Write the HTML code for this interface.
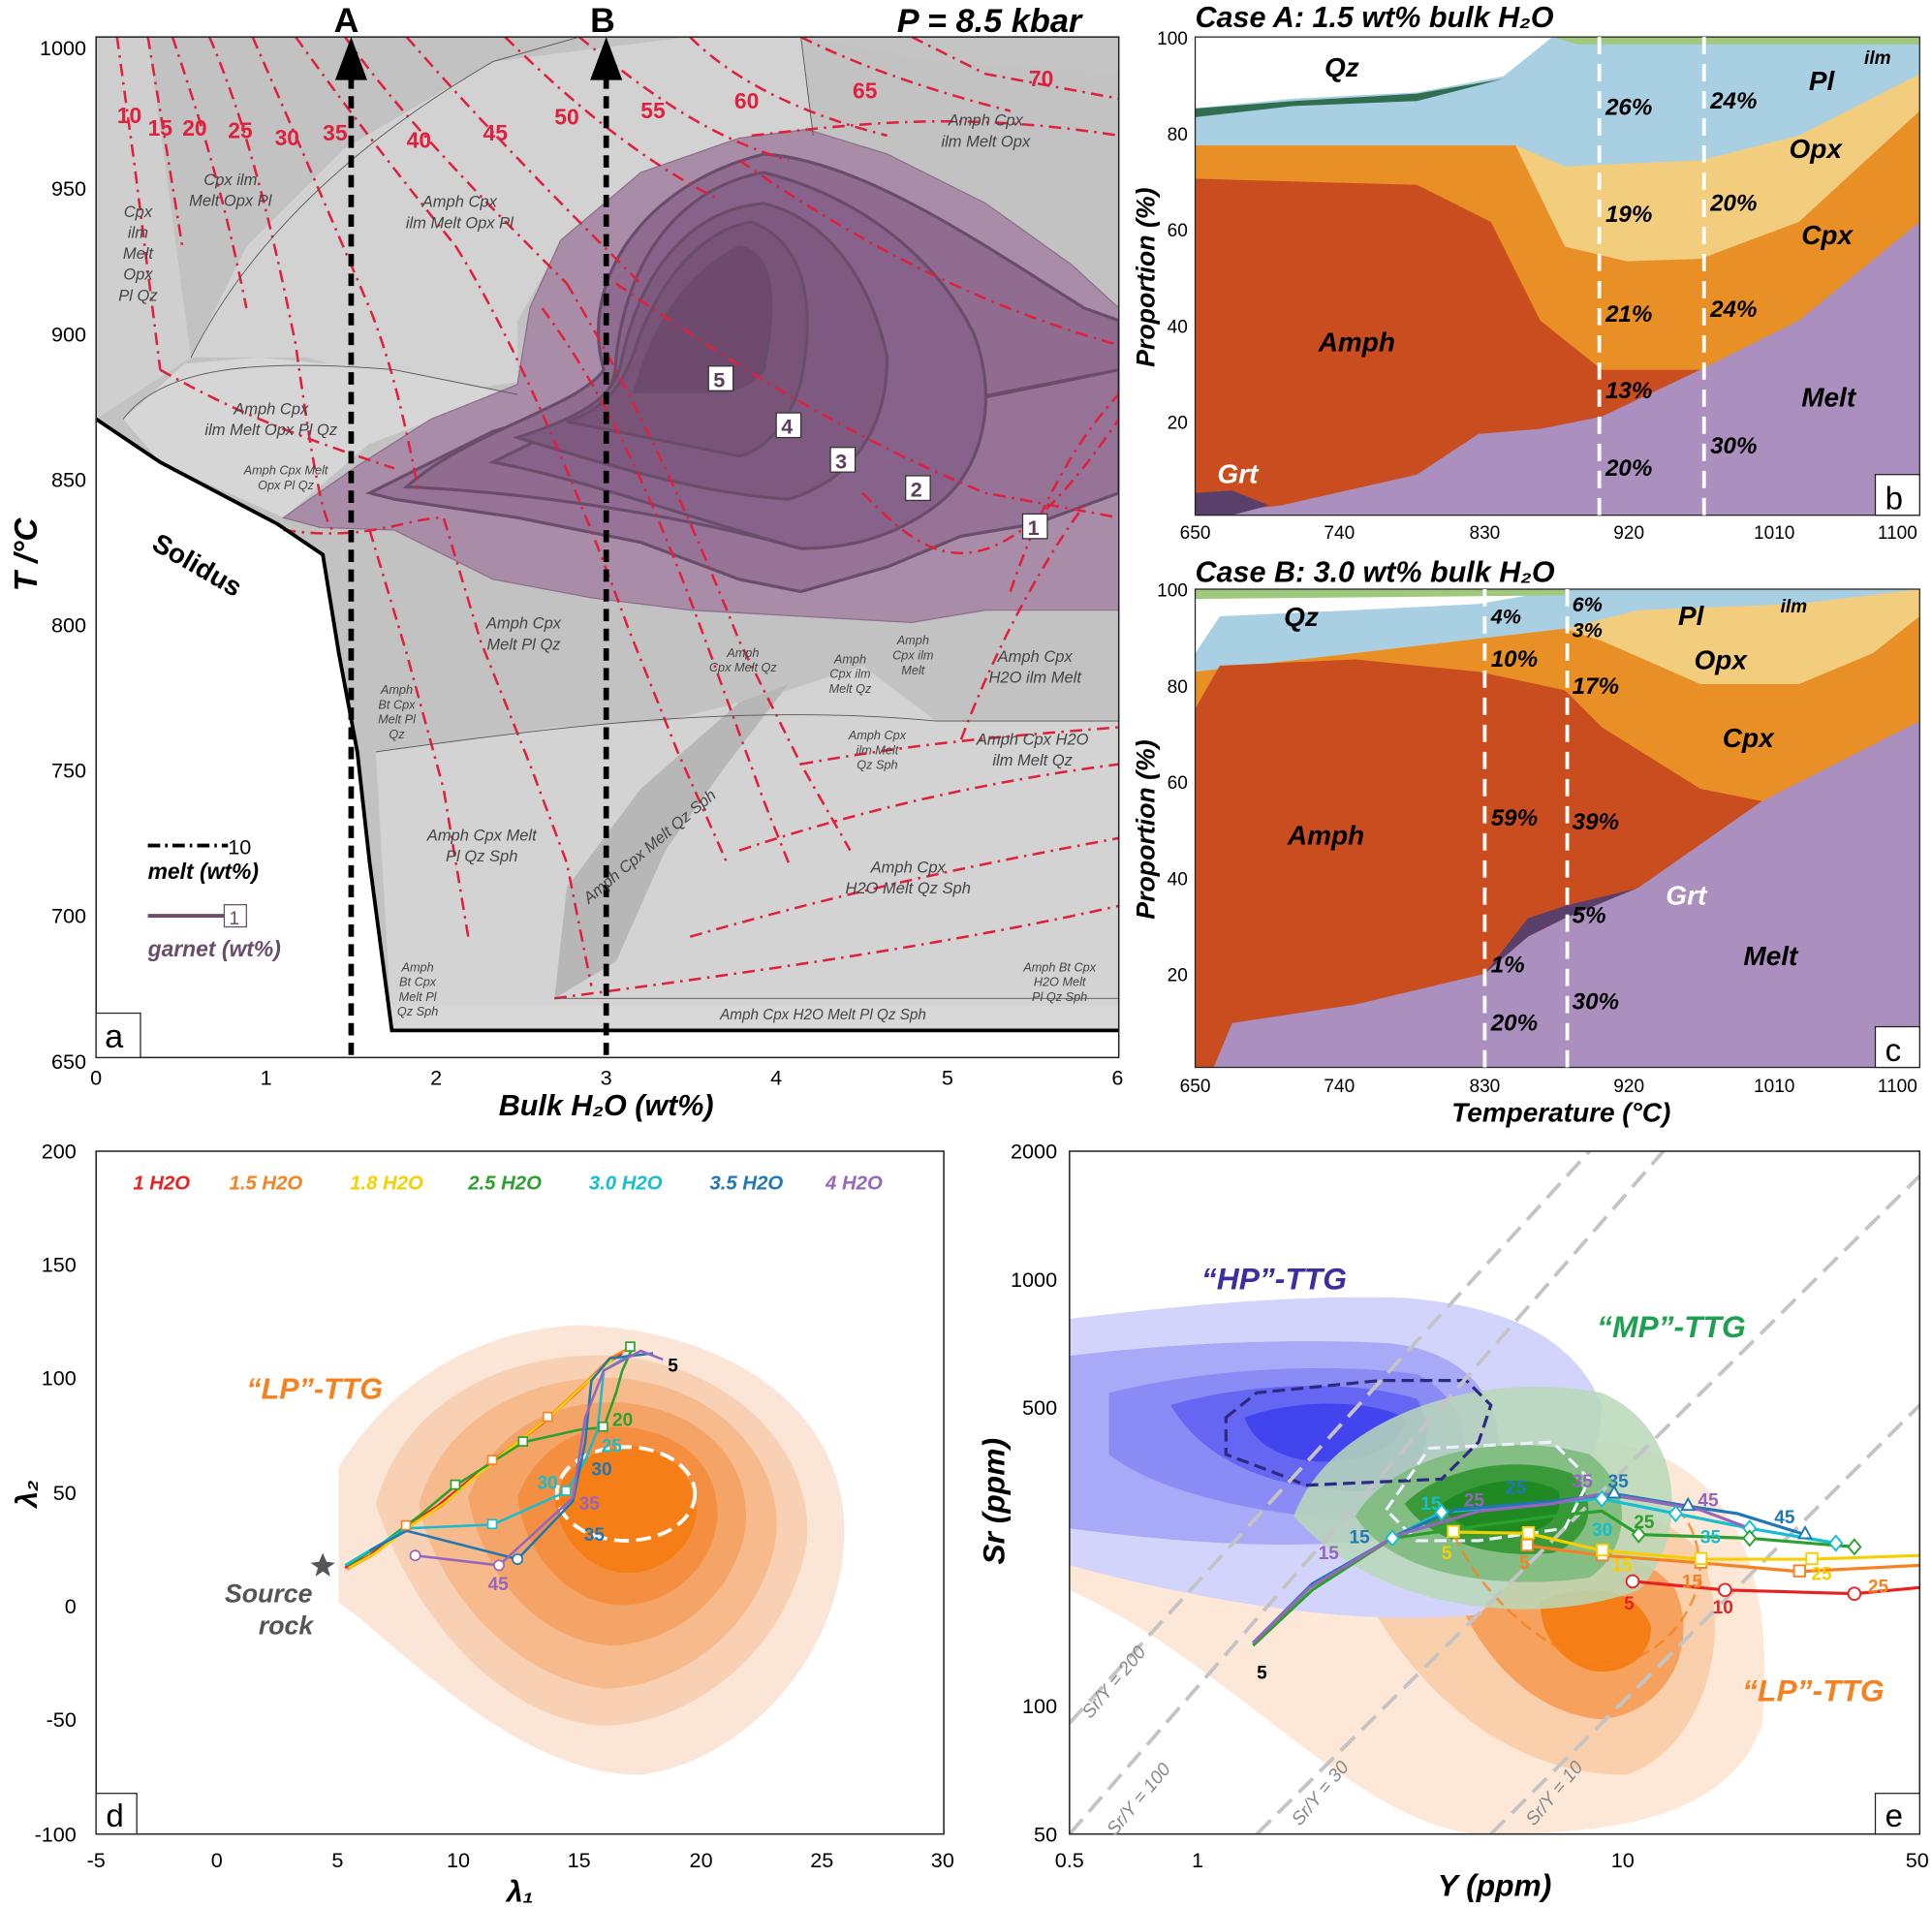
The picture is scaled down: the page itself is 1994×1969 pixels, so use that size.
<!DOCTYPE html>
<html><head><meta charset="utf-8"><style>
html,body{margin:0;padding:0;background:#fff;}
svg{display:block;}
text{font-family:"Liberation Sans",sans-serif;}
.bi{font-weight:bold;font-style:italic;}
.sm{font-size:11px;font-style:italic;fill:#444;}
.red{fill:#e0203c;font-weight:bold;font-size:18px;}
</style></head><body>
<svg width="1994" height="1969" viewBox="0 0 1568 1548" preserveAspectRatio="none" xmlns="http://www.w3.org/2000/svg">
<defs><clipPath id="ca"><rect x="78" y="30" width="830" height="828"/></clipPath>
<clipPath id="cd"><rect x="78" y="934" width="688" height="554"/></clipPath>
<clipPath id="ce"><rect x="868" y="934" width="690" height="554"/></clipPath></defs>
<g clip-path="url(#ca)">
<rect x="78" y="30" width="830" height="828" fill="#c2c2c2"/>
<polygon points="78,30 120,30 155,290 78,340" fill="#cfcfcf"/>
<polygon points="155,290 200,200 280,120 400,50 560,30 650,30 660,110 620,110 520,140 460,190 420,260 420,310 350,320 250,290 200,290" fill="#d2d2d2"/>
<polygon points="650,30 908,30 908,60 760,50" fill="#c4c4c4"/>
<polygon points="100,340 150,295 210,290 320,300 420,320 380,330 300,360 230,420 130,375" fill="#d6d6d6"/>
<polygon points="305,610 450,590 540,585 640,560 700,540 760,585 908,585 908,836 318,836" fill="#d3d3d3"/>
<polygon points="450,810 460,720 520,640 600,570 640,555 590,620 540,690 500,780" fill="#b7b7b7"/>
<polygon points="78,340 130,375 225,425 262,450 275,530 290,610 300,700 318,836 908,836 908,858 78,858" fill="#fff"/>
<rect x="318" y="816" width="590" height="20" fill="#d8d8d8"/>
<polygon points="230,420 290,378 350,340 420,312 430,250 455,195 520,140 600,112 655,105 720,125 800,165 870,215 908,250 908,495 800,495 740,505 650,500 560,495 480,485 400,470 320,430 260,428" fill="#a88ca8" stroke="#8d6f8d" stroke-width="1"/>
<path d="M300,400 L400,350 L500,320 L600,305 L690,330 L760,330 L860,310 L908,300 L908,400 L840,425 L780,435 L720,460 L650,480 L600,470 L520,440 L420,420 L320,405Z" fill="#977397" stroke="#6a4d6a" stroke-width="2.5"/>
<path d="M330,395 C380,350 470,330 490,300 C470,230 520,150 620,125 C700,130 800,200 880,250 L908,260 L908,300 C860,310 800,320 760,330 L760,390 C720,430 690,440 650,445 C560,420 440,400 330,395Z" fill="#906c90" stroke="#6a4d6a" stroke-width="2.5"/>
<path d="M400,375 C470,340 500,330 500,290 C510,200 560,150 620,140 C700,160 760,210 790,270 C810,320 800,380 760,410 C720,440 680,445 650,445 C590,430 480,390 400,375Z" fill="#87628a" stroke="#6a4d6a" stroke-width="2.5"/>
<path d="M420,355 C480,335 500,320 505,290 C520,220 560,170 620,165 C680,180 710,240 720,290 C720,350 690,390 640,405 C560,400 470,370 420,355Z" fill="#7f5a80" stroke="#6a4d6a" stroke-width="2.5"/>
<path d="M460,342 C500,330 510,300 520,270 C545,210 580,185 610,180 C660,200 660,260 650,310 C640,345 620,365 600,370 C550,360 500,350 460,342Z" fill="#795478" stroke="#6a4d6a" stroke-width="2.5"/>
<path d="M515,318 C530,260 560,220 600,200 C630,205 630,250 620,300 C610,312 600,315 590,318Z" fill="#6d4a6e" stroke="#6a4d6a" stroke-width="2"/>
<g fill="none" stroke="#e0203c" stroke-width="2" stroke-dasharray="10,5,2,5">
<path d="M95,30 L110,140 L130,300"/>
<path d="M120,30 L135,120 L148,200"/>
<path d="M140,30 C160,90 180,150 200,250"/>
<path d="M170,30 C200,100 220,180 240,280 C250,350 260,420 270,430"/>
<path d="M205,30 C240,110 270,180 300,250 C320,300 330,350 340,400"/>
<path d="M240,30 C290,100 330,150 370,200"/>
<path d="M280,30 C330,100 400,170 460,230"/>
<path d="M330,30 C400,110 460,170 520,230"/>
<path d="M410,30 C460,80 520,130 580,160"/>
<path d="M470,30 C520,70 570,110 640,130"/>
<path d="M560,30 C600,70 660,95 720,110"/>
<path d="M650,30 C700,55 760,75 820,90"/>
<path d="M740,30 L800,60 L908,80"/>
<path d="M130,300 C200,340 260,360 320,380"/>
<path d="M230,430 C300,440 330,420 360,420 L390,520 L430,620 L460,700 L480,800"/>
<path d="M300,430 L330,530 L360,640 L380,760"/>
<path d="M500,230 C600,300 700,360 800,400 L908,420"/>
<path d="M600,130 C700,200 800,250 908,280"/>
<path d="M440,250 C500,330 540,430 580,540 L620,650 L640,700"/>
<path d="M370,200 C420,280 470,400 510,510 L550,610 L590,700"/>
<path d="M460,230 C520,330 560,420 600,520 L650,620 L690,690"/>
<path d="M700,400 C750,450 800,500 908,340"/>
<path d="M820,480 C840,420 870,360 908,320"/>
<path d="M780,600 C810,520 850,450 880,410"/>
<path d="M650,620 C760,600 850,595 908,590"/>
<path d="M600,690 C720,650 830,630 908,620"/>
<path d="M560,760 C700,720 800,700 908,680"/>
<path d="M450,810 C600,790 750,770 908,735"/>
<path d="M610,110 C700,100 780,90 908,110"/>
</g>
<path d="M78,340 L130,375 L225,425 L262,450 L275,530 L290,610 L300,700 L318,836 L908,836" fill="none" stroke="#000" stroke-width="3"/>
<g fill="none" stroke="#555" stroke-width="0.7"><path d="M155,290 C200,200 280,120 400,50 L470,30"/><path d="M650,30 L660,110"/><path d="M100,340 C130,300 200,290 320,300 L420,320"/><path d="M305,610 C450,590 600,570 760,585 L908,585"/><path d="M450,810 L908,810"/></g>
</g>
<rect x="78" y="30" width="830" height="828" fill="none" stroke="#222" stroke-width="1.2"/>
<line x1="285" y1="62" x2="285" y2="858" stroke="#000" stroke-width="4.5" stroke-dasharray="10,6"/>
<polygon points="285,30 272,65 298,65" fill="#000"/>
<line x1="492" y1="62" x2="492" y2="858" stroke="#000" stroke-width="4.5" stroke-dasharray="10,6"/>
<polygon points="492,30 479,65 505,65" fill="#000"/>
<text x="271" y="26" font-size="28" font-weight="bold">A</text>
<text x="479" y="26" font-size="28" font-weight="bold">B</text>
<text x="728" y="26" font-size="27" class="bi">P = 8.5 kbar</text>
<g class="red"><text x="95" y="100">10</text><text x="120" y="110">15</text><text x="148" y="110">20</text><text x="185" y="112">25</text><text x="223" y="118">30</text><text x="262" y="114">35</text><text x="330" y="120">40</text><text x="392" y="114">45</text><text x="450" y="101">50</text><text x="520" y="96">55</text><text x="596" y="88">60</text><text x="692" y="80">65</text><text x="835" y="70">70</text></g>
<g class="sm" text-anchor="middle" font-size="13">
<text x="112" y="176" font-size="13">Cpx</text><text x="112" y="193" font-size="13">ilm</text><text x="112" y="210" font-size="13">Melt</text><text x="112" y="227" font-size="13">Opx</text><text x="112" y="244" font-size="13">Pl Qz</text>
<text x="187" y="150" font-size="13">Cpx ilm</text><text x="187" y="167" font-size="13">Melt Opx Pl</text>
<text x="373" y="168" font-size="13">Amph Cpx</text><text x="373" y="185" font-size="13">ilm Melt Opx Pl</text>
<text x="800" y="102" font-size="13">Amph Cpx</text><text x="800" y="119" font-size="13">ilm Melt Opx</text>
<text x="220" y="336" font-size="13">Amph Cpx</text><text x="220" y="353" font-size="13">ilm Melt Opx Pl Qz</text>
<text x="232" y="385" font-size="10">Amph Cpx Melt</text><text x="232" y="397" font-size="10">Opx Pl Qz</text>
<text x="425" y="510" font-size="13">Amph Cpx</text><text x="425" y="527" font-size="13">Melt Pl Qz</text>
<text x="322" y="563" font-size="10">Amph</text><text x="322" y="575" font-size="10">Bt Cpx</text><text x="322" y="587" font-size="10">Melt Pl</text><text x="322" y="599" font-size="10">Qz</text>
<text x="603" y="533" font-size="10">Amph</text><text x="603" y="545" font-size="10">Cpx Melt Qz</text>
<text x="690" y="538" font-size="10">Amph</text><text x="690" y="550" font-size="10">Cpx ilm</text><text x="690" y="562" font-size="10">Melt Qz</text>
<text x="741" y="523" font-size="10">Amph</text><text x="741" y="535" font-size="10">Cpx ilm</text><text x="741" y="547" font-size="10">Melt</text>
<text x="840" y="537" font-size="13">Amph Cpx</text><text x="840" y="554" font-size="13">H2O ilm Melt</text>
<text x="712" y="600" font-size="10">Amph Cpx</text><text x="712" y="612" font-size="10">ilm Melt</text><text x="712" y="624" font-size="10">Qz Sph</text>
<text x="838" y="604" font-size="13">Amph Cpx H2O</text><text x="838" y="621" font-size="13">ilm Melt Qz</text>
<text x="391" y="682" font-size="13">Amph Cpx Melt</text><text x="391" y="699" font-size="13">Pl Qz Sph</text>
<text x="737" y="708" font-size="13">Amph Cpx</text><text x="737" y="725" font-size="13">H2O Melt Qz Sph</text>
<text x="339" y="788" font-size="10">Amph</text><text x="339" y="800" font-size="10">Bt Cpx</text><text x="339" y="812" font-size="10">Melt Pl</text><text x="339" y="824" font-size="10">Qz Sph</text>
<text x="860" y="788" font-size="10">Amph Bt Cpx</text><text x="860" y="800" font-size="10">H2O Melt</text><text x="860" y="812" font-size="10">Pl Qz Sph</text>
<text x="668" y="827" font-size="12">Amph Cpx H2O Melt Pl Qz Sph</text>
<text x="530" y="690" font-size="13" transform="rotate(-40 530 690)">Amph Cpx Melt Qz Sph</text>
</g>
<text x="122" y="445" font-size="22" font-weight="bold" transform="rotate(30 122 445)">Solidus</text>
<g font-size="17" font-weight="bold" fill="#5a3f5a">
<rect x="575" y="297" width="20" height="20" fill="#fff" stroke="#333"/><text x="579" y="314">5</text>
<rect x="630" y="335" width="20" height="20" fill="#fff" stroke="#333"/><text x="634" y="352">4</text>
<rect x="674" y="363" width="20" height="20" fill="#fff" stroke="#333"/><text x="678" y="380">3</text>
<rect x="735" y="386" width="20" height="20" fill="#fff" stroke="#333"/><text x="739" y="403">2</text>
<rect x="830" y="417" width="20" height="20" fill="#fff" stroke="#333"/><text x="834" y="434">1</text>
</g>
<line x1="120" y1="686" x2="185" y2="686" stroke="#000" stroke-width="3" stroke-dasharray="10,4,2,4"/>
<text x="185" y="693" font-size="17">10</text>
<text x="120" y="713" font-size="18" class="bi">melt (wt%)</text>
<line x1="120" y1="743" x2="182" y2="743" stroke="#6a4d6a" stroke-width="3"/>
<rect x="182" y="734" width="18" height="18" fill="#fff" stroke="#6a4d6a"/><text x="186" y="750" font-size="15" fill="#6a4d6a">1</text>
<text x="120" y="776" font-size="18" class="bi" fill="#6a4d6a">garnet (wt%)</text>
<rect x="78" y="822" width="36" height="36" fill="#fff" stroke="#222"/><text x="85" y="850" font-size="27">a</text>
<g font-size="17" text-anchor="end"><text x="70" y="45">1000</text><text x="70" y="159">950</text><text x="70" y="277">900</text><text x="70" y="395">850</text><text x="70" y="513">800</text><text x="70" y="631">750</text><text x="70" y="749">700</text><text x="70" y="867">650</text></g>
<g font-size="17" text-anchor="middle"><text x="78" y="880">0</text><text x="216" y="880">1</text><text x="354" y="880">2</text><text x="492" y="880">3</text><text x="630" y="880">4</text><text x="769" y="880">5</text><text x="907" y="880">6</text></g>
<text x="492" y="905" font-size="24" class="bi" text-anchor="middle">Bulk H₂O (wt%)</text>
<text x="30" y="450" font-size="26" class="bi" text-anchor="middle" transform="rotate(-90 30 450)">T /°C</text>

<rect x="970" y="30" width="588" height="388" fill="#a9cfe2"/>
<polygon points="970,30 1260,30 1220,62 1150,75 1050,80 970,88" fill="#fff"/>
<polygon points="970,88 1050,82 1150,76 1220,64 1150,82 1050,86 970,95" fill="#2f6e4f"/>
<polygon points="1260,30 1558,30 1558,36 1280,36" fill="#9fc97c"/>
<polygon points="970,118 1230,118 1270,135 1380,130 1460,110 1558,60 1558,418 970,418" fill="#f2cd7e"/>
<polygon points="970,118 1230,118 1270,200 1320,212 1380,210 1460,180 1558,90 1558,418 970,418" fill="#e88f26"/>
<polygon points="970,145 1150,150 1210,180 1250,260 1300,300 1380,300 1558,418 970,418" fill="#c94d1f"/>
<polygon points="970,418 1040,410 1150,385 1200,352 1250,348 1300,338 1380,300 1460,260 1558,180 1558,418" fill="#ab8fbf"/>
<polygon points="970,400 1000,398 1030,410 1000,418 970,418" fill="#5a3f6a"/>
<rect x="970" y="30" width="588" height="388" fill="none" stroke="#222"/>
<line x1="1298" y1="30" x2="1298" y2="418" stroke="#fff" stroke-width="3" stroke-dasharray="14,8"/>
<line x1="1383" y1="30" x2="1383" y2="418" stroke="#fff" stroke-width="3" stroke-dasharray="14,8"/>
<g class="bi" font-size="22"><text x="1075" y="62">Qz</text><text x="1468" y="73">Pl</text><text x="1452" y="128">Opx</text><text x="1462" y="198">Cpx</text><text x="1070" y="285">Amph</text><text x="1462" y="330">Melt</text><text x="988" y="392" fill="#fff">Grt</text></g>
<text x="1513" y="52" font-size="15" class="bi">ilm</text>
<g class="bi" font-size="19"><text x="1303" y="93">26%</text><text x="1388" y="88">24%</text><text x="1303" y="180">19%</text><text x="1388" y="171">20%</text><text x="1303" y="261">21%</text><text x="1388" y="257">24%</text><text x="1303" y="323">13%</text><text x="1303" y="386">20%</text><text x="1388" y="368">30%</text></g>
<rect x="1522" y="385" width="36" height="33" fill="#fff" stroke="#222"/><text x="1530" y="413" font-size="26">b</text>
<text x="970" y="22" font-size="24" class="bi">Case A: 1.5 wt% bulk H₂O</text>
<g font-size="15" text-anchor="end"><text x="964" y="36">100</text><text x="964" y="114">80</text><text x="964" y="192">60</text><text x="964" y="270">40</text><text x="964" y="348">20</text></g>
<g font-size="15" text-anchor="middle"><text x="970" y="437">650</text><text x="1087" y="437">740</text><text x="1205" y="437">830</text><text x="1322" y="437">920</text><text x="1440" y="437">1010</text><text x="1540" y="437">1100</text></g>
<text x="937" y="225" font-size="21" class="bi" text-anchor="middle" transform="rotate(-90 937 225)">Proportion (%)</text>

<rect x="970" y="478" width="588" height="388" fill="#a9cfe2"/>
<polygon points="970,478 1270,478 1200,490 1100,495 990,500 970,530" fill="#fff"/>
<polygon points="970,478 1270,478 1270,483 970,486" fill="#9fc97c"/>
<polygon points="970,545 1270,510 1330,495 1460,490 1558,478 1558,866 970,866" fill="#f2cd7e"/>
<polygon points="970,545 1270,510 1300,520 1380,555 1460,555 1520,530 1558,500 1558,866 970,866" fill="#e88f26"/>
<polygon points="970,575 990,540 1100,535 1200,545 1270,560 1300,590 1380,640 1430,650 1558,866 970,866" fill="#c94d1f"/>
<polygon points="1205,790 1240,745 1270,735 1340,718 1330,722 1270,745 1240,760" fill="#5a3f6a"/>
<polygon points="985,866 1000,830 1100,815 1205,790 1240,760 1270,745 1330,720 1430,650 1558,585 1558,866" fill="#ab8fbf"/>
<rect x="970" y="478" width="588" height="388" fill="none" stroke="#222"/>
<line x1="1205" y1="478" x2="1205" y2="866" stroke="#fff" stroke-width="3" stroke-dasharray="14,8"/>
<line x1="1272" y1="478" x2="1272" y2="866" stroke="#fff" stroke-width="3" stroke-dasharray="14,8"/>
<g class="bi" font-size="22"><text x="1042" y="508">Qz</text><text x="1362" y="507">Pl</text><text x="1375" y="543">Opx</text><text x="1398" y="606">Cpx</text><text x="1045" y="685">Amph</text><text x="1415" y="783">Melt</text><text x="1352" y="734" fill="#fff">Grt</text></g>
<text x="1445" y="497" font-size="15" class="bi">ilm</text>
<g class="bi" font-size="17"><text x="1210" y="506">4%</text><text x="1276" y="496">6%</text><text x="1276" y="517">3%</text></g>
<g class="bi" font-size="19"><text x="1210" y="541">10%</text><text x="1276" y="563">17%</text><text x="1210" y="670">59%</text><text x="1276" y="673">39%</text><text x="1276" y="749">5%</text><text x="1210" y="789">1%</text><text x="1210" y="836">20%</text><text x="1276" y="819">30%</text></g>
<rect x="1522" y="833" width="36" height="33" fill="#fff" stroke="#222"/><text x="1530" y="861" font-size="26">c</text>
<text x="970" y="472" font-size="24" class="bi">Case B: 3.0 wt% bulk H₂O</text>
<g font-size="15" text-anchor="end"><text x="964" y="484">100</text><text x="964" y="562">80</text><text x="964" y="640">60</text><text x="964" y="718">40</text><text x="964" y="796">20</text></g>
<g font-size="15" text-anchor="middle"><text x="970" y="886">650</text><text x="1087" y="886">740</text><text x="1205" y="886">830</text><text x="1322" y="886">920</text><text x="1440" y="886">1010</text><text x="1540" y="886">1100</text></g>
<text x="937" y="673" font-size="21" class="bi" text-anchor="middle" transform="rotate(-90 937 673)">Proportion (%)</text>
<text x="1267" y="910" font-size="22" class="bi" text-anchor="middle">Temperature (°C)</text>

<g clip-path="url(#cd)">
<path d="M275,1190 C300,1150 360,1080 470,1075 C600,1080 690,1150 685,1250 C680,1350 600,1430 520,1440 C420,1440 330,1340 275,1300Z" fill="#fbe5d6"/>
<path d="M305,1220 C330,1130 420,1095 500,1100 C600,1110 660,1180 655,1250 C640,1340 560,1400 490,1400 C400,1395 330,1300 305,1220Z" fill="#f8d0b3"/>
<path d="M340,1220 C360,1150 430,1115 500,1118 C590,1125 635,1190 630,1245 C620,1320 550,1370 490,1370 C410,1360 350,1280 340,1220Z" fill="#f6ba8c"/>
<path d="M380,1215 C400,1160 450,1135 505,1138 C580,1145 610,1195 605,1240 C595,1300 540,1335 495,1335 C430,1330 390,1270 380,1215Z" fill="#f5a468"/>
<path d="M420,1215 C435,1175 470,1155 510,1158 C565,1165 585,1200 582,1235 C575,1280 535,1305 500,1302 C455,1298 425,1255 420,1215Z" fill="#f48f42"/>
<path d="M450,1215 C460,1185 490,1172 515,1173 C550,1178 568,1205 565,1230 C560,1262 530,1278 505,1276 C475,1273 452,1245 450,1215Z" fill="#f57f16"/>
<ellipse cx="508" cy="1212" rx="56" ry="38" fill="none" stroke="#fff" stroke-width="3" stroke-dasharray="12,6"/>
</g>
<rect x="78" y="934" width="688" height="554" fill="none" stroke="#222" stroke-width="1.2"/>
<g fill="none" stroke-width="2">
<polyline points="280,1272 300,1262 330,1238 355,1222 400,1185 440,1155 470,1128 490,1108 505,1098" stroke="#e82020"/>
<polyline points="282,1273 302,1262 332,1238 358,1222 402,1184 445,1150 475,1122 495,1102 512,1093" stroke="#f58220"/>
<polyline points="283,1272 305,1260 335,1237 360,1220 405,1182 448,1148 478,1120 498,1102" stroke="#f5d000"/>
<polyline points="282,1270 305,1256 340,1230 370,1205 425,1170 470,1160 490,1158 500,1130 505,1112 515,1090" stroke="#2ca02c"/>
<polyline points="280,1270 300,1258 330,1240 400,1237 460,1210 475,1185 485,1160 490,1112 510,1100" stroke="#17becf"/>
<polyline points="300,1258 330,1242 420,1265 465,1218 475,1170 480,1120 495,1102 530,1098" stroke="#1f77b4"/>
<polyline points="337,1262 405,1270 465,1215 475,1150 490,1112 520,1096 538,1103" stroke="#9467bd"/>
</g>
<g fill="#fff" stroke-width="1.3">
<rect x="326" y="1234" width="7" height="7" stroke="#f58220"/><rect x="396" y="1181" width="7" height="7" stroke="#f58220"/><rect x="441" y="1146" width="7" height="7" stroke="#f58220"/><rect x="508" y="1089" width="7" height="7" stroke="#2ca02c"/>
<rect x="366" y="1201" width="7" height="7" stroke="#2ca02c"/><rect x="421" y="1166" width="7" height="7" stroke="#2ca02c"/><rect x="486" y="1154" width="7" height="7" stroke="#2ca02c"/>
<rect x="396" y="1233" width="7" height="7" stroke="#17becf"/><rect x="456" y="1206" width="7" height="7" stroke="#17becf"/>
<circle cx="420" cy="1265" r="4" stroke="#1f77b4"/><circle cx="405" cy="1270" r="4" stroke="#9467bd"/><circle cx="337" cy="1262" r="4" stroke="#9467bd"/>
</g>
<polygon points="262,1260 265,1267 272,1268 266,1272 268,1279 262,1275 256,1279 258,1272 252,1268 259,1267" fill="#555"/>
<g class="bi" font-size="16"><text x="108" y="965" fill="#e82020">1 H2O</text><text x="186" y="965" fill="#f58220">1.5 H2O</text><text x="284" y="965" fill="#f5d000">1.8 H2O</text><text x="380" y="965" fill="#2ca02c">2.5 H2O</text><text x="478" y="965" fill="#17becf">3.0 H2O</text><text x="576" y="965" fill="#1f77b4">3.5 H2O</text><text x="670" y="965" fill="#9467bd">4 H2O</text></g>
<text x="200" y="1135" font-size="24" class="bi" fill="#f58220">“LP”-TTG</text>
<text x="218" y="1300" font-size="21" class="bi" fill="#555" text-anchor="middle">Source</text>
<text x="232" y="1326" font-size="21" class="bi" fill="#555" text-anchor="middle">rock</text>
<g font-size="15" font-weight="bold"><text x="542" y="1113">5</text><text x="497" y="1157" fill="#2ca02c">20</text><text x="488" y="1178" fill="#17becf">25</text><text x="480" y="1197" fill="#1f77b4">30</text><text x="436" y="1208" fill="#17becf">30</text><text x="470" y="1225" fill="#9467bd">35</text><text x="474" y="1250" fill="#1f77b4">35</text><text x="396" y="1290" fill="#9467bd">45</text></g>
<rect x="78" y="1455" width="33" height="33" fill="#fff" stroke="#222"/><text x="86" y="1482" font-size="26">d</text>
<g font-size="17" text-anchor="end"><text x="62" y="940">200</text><text x="62" y="1032">150</text><text x="62" y="1124">100</text><text x="62" y="1217">50</text><text x="62" y="1309">0</text><text x="62" y="1401">-50</text><text x="62" y="1494">-100</text></g>
<g font-size="17" text-anchor="middle"><text x="78" y="1515">-5</text><text x="176" y="1515">0</text><text x="274" y="1515">5</text><text x="372" y="1515">10</text><text x="470" y="1515">15</text><text x="569" y="1515">20</text><text x="667" y="1515">25</text><text x="765" y="1515">30</text></g>
<text x="422" y="1543" font-size="24" class="bi" text-anchor="middle">λ₁</text>
<text x="30" y="1212" font-size="24" class="bi" text-anchor="middle" transform="rotate(-90 30 1212)">λ₂</text>

<g clip-path="url(#ce)">
<path d="M868,1230 C950,1200 1100,1170 1300,1170 C1420,1180 1440,1300 1430,1400 C1400,1480 1300,1488 1200,1488 C1100,1480 1000,1350 868,1290Z" fill="#fde8d8"/>
<path d="M1100,1280 C1200,1200 1330,1200 1380,1260 C1410,1330 1380,1420 1320,1440 C1230,1440 1150,1380 1100,1280Z" fill="#f9c8a0" opacity="0.8"/>
<path d="M1180,1290 C1240,1250 1320,1240 1360,1290 C1380,1340 1350,1390 1300,1395 C1240,1390 1200,1340 1180,1290Z" fill="#f59a50" opacity="0.85"/>
<path d="M1250,1300 C1290,1280 1330,1290 1340,1320 C1340,1350 1310,1360 1290,1355 C1260,1345 1250,1320 1250,1300Z" fill="#f57f16"/>
<path d="M868,1070 C950,1060 1050,1050 1140,1053 C1230,1060 1280,1090 1300,1140 C1300,1200 1250,1260 1200,1310 C1100,1320 980,1300 868,1270Z" fill="#d2d4fb"/>
<path d="M868,1100 C950,1090 1050,1085 1130,1090 C1210,1100 1230,1160 1210,1220 C1150,1260 1020,1260 868,1240Z" fill="#a9aaf7"/>
<path d="M900,1130 C980,1110 1080,1105 1150,1115 C1200,1140 1200,1200 1160,1230 C1080,1240 950,1220 900,1180Z" fill="#8a8bf5"/>
<path d="M950,1140 C1020,1120 1100,1120 1150,1135 C1170,1170 1150,1200 1110,1210 C1040,1210 980,1190 950,1140Z" fill="#6566f2"/>
<path d="M1010,1150 C1050,1135 1110,1135 1140,1150 C1140,1175 1100,1190 1060,1185 C1030,1180 1015,1165 1010,1150Z" fill="#4244ee"/>
<path d="M1050,1230 C1080,1150 1200,1110 1300,1130 C1370,1160 1370,1250 1330,1290 C1250,1320 1120,1310 1050,1230Z" fill="#b8d8b8" opacity="0.85"/>
<path d="M1100,1230 C1130,1180 1220,1160 1290,1180 C1330,1210 1320,1260 1290,1280 C1220,1290 1130,1280 1100,1230Z" fill="#7dbb7d" opacity="0.9"/>
<path d="M1140,1220 C1170,1190 1230,1180 1275,1195 C1300,1220 1290,1250 1260,1260 C1210,1265 1160,1250 1140,1220Z" fill="#3a9a3a"/>
<path d="M1170,1220 C1200,1200 1240,1195 1265,1210 C1270,1235 1250,1245 1220,1245 C1195,1243 1175,1235 1170,1220Z" fill="#1f8a22"/>
<path d="M995,1150 L1020,1130 L1120,1120 L1190,1120 L1210,1140 L1200,1170 L1170,1200 L1060,1205 L1035,1195 L995,1180Z" fill="none" stroke="#2e2a80" stroke-width="2.5" stroke-dasharray="10,5"/>
<path d="M1125,1225 L1160,1175 L1260,1170 L1290,1200 L1270,1240 L1200,1250 L1150,1250Z" fill="none" stroke="#eef" stroke-width="2.5" stroke-dasharray="10,5"/>
<path d="M1180,1245 C1200,1290 1250,1340 1300,1350 C1340,1350 1370,1320 1380,1280 C1380,1250 1370,1230 1360,1225" fill="none" stroke="#f58220" stroke-width="2" stroke-dasharray="10,5" opacity="0.8"/>
<g stroke="#c4c4c4" stroke-width="3" stroke-dasharray="16,8" fill="none">
<line x1="868" y1="1398" x2="1290" y2="934"/>
<line x1="868" y1="1488" x2="1350" y2="934"/>
<line x1="1020" y1="1488" x2="1558" y2="954"/>
<line x1="1210" y1="1488" x2="1558" y2="1140"/>
</g>
<g fill="none" stroke-width="2.5">
<polyline points="1325,1283 1400,1290 1505,1293 1558,1288" stroke="#e82020"/>
<polyline points="1240,1254 1300,1262 1380,1268 1460,1275 1558,1270" stroke="#f58220"/>
<polyline points="1180,1243 1240,1244 1300,1258 1380,1265 1470,1265 1558,1262" stroke="#f5d000"/>
<polyline points="1017,1335 1065,1290 1130,1248 1200,1238 1260,1230 1300,1226 1330,1245 1420,1248 1505,1255" stroke="#2ca02c"/>
<polyline points="1017,1333 1065,1285 1135,1245 1170,1227 1240,1220 1300,1216 1360,1228 1420,1240 1490,1252" stroke="#17becf"/>
<polyline points="1017,1333 1065,1285 1135,1245 1180,1225 1260,1218 1310,1212 1370,1222 1410,1228 1465,1245" stroke="#1f77b4"/>
<polyline points="1017,1333 1063,1288 1133,1246 1200,1226 1260,1220 1300,1212 1340,1218 1380,1225 1420,1240" stroke="#9467bd"/>
</g>
<g fill="#fff" stroke-width="1.5">
<path d="M1130,1242 l5,6 -5,6 -5,-6z M1170,1221 l5,6 -5,6 -5,-6z M1300,1210 l5,6 -5,6 -5,-6z M1360,1222 l5,6 -5,6 -5,-6z M1420,1234 l5,6 -5,6 -5,-6z M1490,1246 l5,6 -5,6 -5,-6z" stroke="#17becf"/>
<path d="M1330,1239 l5,6 -5,6 -5,-6z M1420,1242 l5,6 -5,6 -5,-6z M1505,1249 l5,6 -5,6 -5,-6z" stroke="#2ca02c"/>
<path d="M1310,1206 l5,9 -10,0z M1370,1216 l5,9 -10,0z M1465,1239 l5,9 -10,0z" stroke="#1f77b4"/>
</g>
</g>
<rect x="868" y="934" width="690" height="554" fill="none" stroke="#222" stroke-width="1.2"/>
<g fill="#fff" stroke-width="1.5">
<circle cx="1325" cy="1283" r="5" stroke="#e82020"/><circle cx="1400" cy="1290" r="5" stroke="#e82020"/><circle cx="1505" cy="1293" r="5" stroke="#e82020"/>
<rect x="1235" y="1249" width="9" height="9" stroke="#f58220"/><rect x="1296" y="1257" width="9" height="9" stroke="#f58220"/><rect x="1376" y="1263" width="9" height="9" stroke="#f58220"/><rect x="1456" y="1270" width="9" height="9" stroke="#f58220"/>
<rect x="1175" y="1238" width="9" height="9" stroke="#f5d000"/><rect x="1236" y="1239" width="9" height="9" stroke="#f5d000"/><rect x="1296" y="1253" width="9" height="9" stroke="#f5d000"/><rect x="1376" y="1260" width="9" height="9" stroke="#f5d000"/><rect x="1466" y="1260" width="9" height="9" stroke="#f5d000"/>
</g>
<g class="bi"><text x="975" y="1046" font-size="25" fill="#3b2fa0">“HP”-TTG</text><text x="1296" y="1085" font-size="25" fill="#1fa050">“MP”-TTG</text><text x="1414" y="1380" font-size="25" fill="#f58220">“LP”-TTG</text></g>
<g font-size="15" font-weight="bold"><text x="1020" y="1362">5</text><text x="1070" y="1265" fill="#9467bd">15</text><text x="1095" y="1252" fill="#1f77b4">15</text><text x="1153" y="1225" fill="#17becf">15</text><text x="1188" y="1222" fill="#9467bd">25</text><text x="1222" y="1212" fill="#1f77b4">25</text><text x="1276" y="1207" fill="#9467bd">35</text><text x="1305" y="1207" fill="#1f77b4">35</text><text x="1378" y="1222" fill="#9467bd">45</text><text x="1440" y="1236" fill="#1f77b4">45</text><text x="1292" y="1246" fill="#17becf">30</text><text x="1326" y="1240" fill="#2ca02c">25</text><text x="1380" y="1252" fill="#17becf">35</text><text x="1170" y="1265" fill="#f5d000">5</text><text x="1233" y="1273" fill="#f58220">5</text><text x="1308" y="1275" fill="#f5d000">15</text><text x="1365" y="1288" fill="#f58220">15</text><text x="1470" y="1282" fill="#f5d000">25</text><text x="1516" y="1292" fill="#f58220">25</text><text x="1318" y="1306" fill="#e82020">5</text><text x="1390" y="1309" fill="#e82020">10</text></g>
<g font-size="15" font-style="italic" fill="#888"><text x="885" y="1395" transform="rotate(-50 885 1395)">Sr/Y = 200</text><text x="905" y="1490" transform="rotate(-50 905 1490)">Sr/Y = 100</text><text x="1055" y="1482" transform="rotate(-50 1055 1482)">Sr/Y = 30</text><text x="1245" y="1482" transform="rotate(-50 1245 1482)">Sr/Y = 10</text></g>
<rect x="1522" y="1455" width="36" height="33" fill="#fff" stroke="#222"/><text x="1530" y="1482" font-size="26">e</text>
<g font-size="17" text-anchor="end"><text x="858" y="940">2000</text><text x="858" y="1044">1000</text><text x="858" y="1148">500</text><text x="858" y="1390">100</text><text x="858" y="1494">50</text></g>
<g font-size="17" text-anchor="middle"><text x="868" y="1515">0.5</text><text x="972" y="1515">1</text><text x="1317" y="1515">10</text><text x="1556" y="1515">50</text></g>
<text x="1213" y="1538" font-size="25" class="bi" text-anchor="middle">Y (ppm)</text>
<text x="815" y="1218" font-size="25" class="bi" text-anchor="middle" transform="rotate(-90 815 1218)">Sr (ppm)</text>
</svg>
</body></html>
